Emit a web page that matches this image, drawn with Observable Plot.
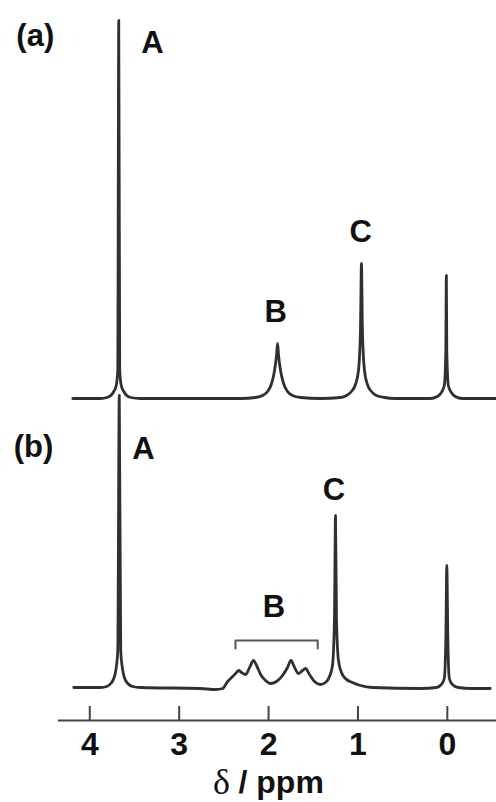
<!DOCTYPE html>
<html>
<head>
<meta charset="utf-8">
<script src="https://cdn.jsdelivr.net/npm/d3@7"></script>
<script src="https://cdn.jsdelivr.net/npm/@observablehq/plot@0.6"></script>
<style>
  html, body { margin: 0; padding: 0; background: #fff; }
  svg { display: block; }
</style>
</head>
<body>
<div id="chart"></div>
<script>
// ---- Spectrum (a): chemical shift (ppm) and intensity above its own baseline (a.u.)
const specA_ppm = [4.190, 3.877, 3.810, 3.765, 3.732, 3.704, 3.687, 3.676, 3.665, 3.648, 3.620, 3.587, 3.542, 3.430,
  2.313, 2.145, 2.067, 2.011, 1.966, 1.933, 1.911, 1.899, 1.888, 1.866, 1.832, 1.788, 1.732, 1.642, 1.419,
  1.196, 1.128, 1.073, 1.028, 0.994, 0.972, 0.961, 0.950, 0.927, 0.894, 0.849, 0.793, 0.704, 0.581,
  0.190, 0.112, 0.067, 0.034, 0.017, 0.011, 0.006, -0.011, -0.045, -0.089, -0.168, -0.547];
const specA_int = [0, 0, 1, 3, 7, 13, 28, 378, 28, 13, 7, 3, 1, 0,
  0, 1, 3, 7, 15, 28, 43, 55, 43, 28, 15, 7, 3, 1, 0,
  1, 3, 7, 14, 28, 68, 135, 68, 28, 14, 7, 3, 1, 0,
  0, 2, 6, 13, 48, 123, 48, 13, 6, 2, 0, 0];

// ---- Spectrum (b)
const specB_ppm = [4.179, 3.877, 3.810, 3.765, 3.732, 3.709, 3.687, 3.670, 3.654, 3.631, 3.609, 3.575, 3.520, 3.430,
  2.760, 2.592, 2.514, 2.458, 2.402, 2.358, 2.335, 2.302, 2.257, 2.212, 2.168, 2.134, 2.089, 2.034, 1.978,
  1.911, 1.844, 1.788, 1.749, 1.709, 1.665, 1.620, 1.587, 1.542, 1.486, 1.419,
  1.363, 1.318, 1.285, 1.263, 1.251, 1.240, 1.218, 1.184, 1.140, 1.061, 0.972, 0.838,
  0.302, 0.123, 0.067, 0.034, 0.017, 0.006, -0.006, -0.022, -0.056, -0.123, -0.257, -0.480];
const specB_int = [1, 1, 2, 5, 10, 18, 38, 293, 38, 18, 10, 5, 2, 1,
  0, -1, 0, 7, 12, 16, 18, 16, 14, 21, 28, 23, 14, 8, 5,
  7, 13, 21, 28, 21, 15, 18, 20, 14, 7, 4,
  6, 12, 23, 68, 173, 68, 28, 16, 10, 6, 3, 1,
  0, 1, 4, 10, 48, 123, 48, 10, 4, 1, 0, 0];

// ---- Axis ticks
const tickValues = [4, 3, 2, 1, 0];
const tickLabels = ["4", "3", "2", "1", "0"];

// ---- Peak labels (ppm, height on the stacked intensity scale)
const labelText = ["(a)", "A", "B", "C", "(b)", "A", "B", "C"];
const labelPpm  = [4.61, 3.30, 1.92, 0.97, 4.63, 3.40, 1.94, 1.27];
const labelY    = [684, 677, 408, 488, 273, 271, 113, 230];

// ---- Bracket over multiplet B in (b): ppm range and heights
const bracketRange = [2.37, 1.45];
const bracketLow = 72, bracketHigh = 80;

// ---- Stack offsets for the two traces
const offsetA = 322, offsetB = 32;

const rowsA = specA_ppm.map((p, i) => ({ppm: p, y: specA_int[i] + offsetA}));
const rowsB = specB_ppm.map((p, i) => ({ppm: p, y: specB_int[i] + offsetB}));
const labels = labelText.map((t, i) => ({t, x: labelPpm[i], y: labelY[i]}));
const bracket = [
  {x: bracketRange[0], y: bracketLow}, {x: bracketRange[0], y: bracketHigh},
  {x: bracketRange[1], y: bracketHigh}, {x: bracketRange[1], y: bracketLow}
];
const ticks = tickValues.map((v, i) => ({v, label: tickLabels[i]}));

const sans = "'Liberation Sans', Arial, Helvetica, sans-serif";
const ink = "#2f2f36";

const chart = Plot.plot({
  width: 496,
  height: 802,
  marginTop: 0,
  marginBottom: 82,
  marginLeft: 58,
  marginRight: 0,
  x: {domain: [4.35, -0.55], axis: null},
  y: {domain: [0, 720], axis: null},
  style: {background: "white", fontFamily: sans, overflow: "visible"},
  marks: [
    // axis line and upward ticks
    Plot.ruleY([0], {stroke: "#444", strokeWidth: 2}),
    Plot.ruleX(ticks, {x: "v", y1: 0, y2: 14, stroke: "#444", strokeWidth: 2}),
    Plot.text(ticks, {x: "v", y: 0, dy: 34, text: "label", lineAnchor: "bottom",
      fontSize: 32, fontWeight: "bold", fill: "#111"}),
    // axis title
    Plot.text(["δ"], {frameAnchor: "bottom", dx: -56, dy: 73, lineAnchor: "bottom",
      fontFamily: "'Liberation Serif', 'Times New Roman', serif", fontSize: 36, fill: "#111"}),
    Plot.text(["/ ppm"], {frameAnchor: "bottom", textAnchor: "start", dx: -39, dy: 72, lineAnchor: "bottom",
      fontSize: 32, fontWeight: "bold", fill: "#111"}),
    // spectra
    Plot.line(rowsA, {x: "ppm", y: "y", curve: "monotone-x", stroke: ink, strokeWidth: 2.8, strokeLinejoin: "round"}),
    Plot.line(rowsB, {x: "ppm", y: "y", curve: "monotone-x", stroke: ink, strokeWidth: 2.8, strokeLinejoin: "round"}),
    // bracket
    Plot.line(bracket, {x: "x", y: "y", stroke: "#555", strokeWidth: 2}),
    // labels
    Plot.text(labels, {x: "x", y: "y", text: "t", lineAnchor: "middle",
      fontSize: 31, fontWeight: "bold", fill: "#111"})
  ]
});
document.getElementById("chart").appendChild(chart);
</script>
</body>
</html>
